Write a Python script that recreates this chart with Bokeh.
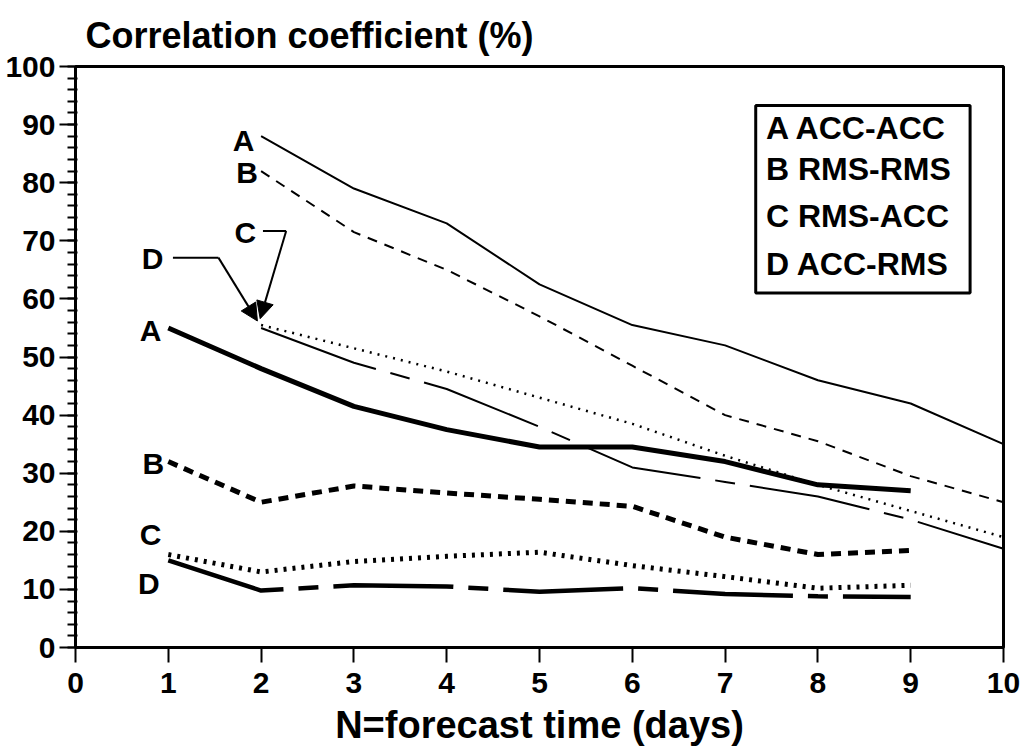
from bokeh.plotting import figure
from bokeh.models import Range1d, FixedTicker, Arrow, NormalHead
from bokeh.core.properties import value
from bokeh.embed import file_html
from bokeh.resources import INLINE

# ---- data ----
days_long = [2, 3, 4, 5, 6, 7, 8, 9, 10]
acc_acc_long = [88, 79, 73, 62.5, 55.5, 52, 46, 42, 35]
rms_rms_long = [82, 71.5, 65, 57, 48.5, 40, 35.5, 29.5, 25]
rms_acc_long = [55.5, 51.5, 47.5, 43, 38.5, 33, 28, 23.5, 19]
acc_rms_long = [55, 49, 44.5, 38, 31, 28.5, 26, 22, 17]

days_short = [1, 2, 3, 4, 5, 6, 7, 8, 9]
acc_acc_short = [55, 48, 41.5, 37.5, 34.5, 34.5, 32, 28, 27]
rms_rms_short = [32, 25, 27.8, 26.6, 25.5, 24.3, 19, 16, 16.7]
rms_acc_short = [16, 13, 14.8, 15.7, 16.4, 14.1, 12.2, 10.2, 10.7]
acc_rms_short = [15, 9.8, 10.7, 10.5, 9.6, 10.2, 9.2, 8.8, 8.7]

x_ticks = [0, 1, 2, 3, 4, 5, 6, 7, 8, 9, 10]
y_ticks = [0, 10, 20, 30, 40, 50, 60, 70, 80, 90, 100]

legend_entries = ["A ACC-ACC", "B RMS-RMS", "C RMS-ACC", "D ACC-RMS"]
curve_letters = ["A", "B", "C", "D", "A", "B", "C", "D"]

title_text = "Correlation coefficient (%)"
x_label = "N=forecast time (days)"

FONT = "Liberation Sans"

p = figure(width=1024, height=754, output_backend="svg", toolbar_location=None,
           x_range=Range1d(0, 10), y_range=Range1d(0, 100),
           min_border_left=75, min_border_right=21, min_border_top=66,
           min_border_bottom=107)
p.background_fill_color = "white"
p.border_fill_color = "white"
p.grid.visible = False
p.outline_line_color = "black"
p.outline_line_width = 3

p.title.text = title_text
p.title.text_font = FONT
p.title.text_font_style = "bold"
p.title.text_font_size = "36px"
p.title.text_color = "black"
p.title.align = "left"
p.title.offset = 10
p.title.standoff = 22

# axes
xa = p.xaxis[0]
xa.ticker = FixedTicker(ticks=x_ticks)
xa.axis_line_width = 3
xa.axis_line_color = "black"
xa.major_tick_line_width = 2
xa.major_tick_line_color = "black"
xa.major_tick_out = 15
xa.major_tick_in = 0
xa.minor_tick_line_color = None
xa.major_label_text_font = FONT
xa.major_label_text_font_style = "bold"
xa.major_label_text_font_size = "30px"
xa.major_label_text_color = "black"
xa.major_label_standoff = 10
xa.axis_label = x_label
xa.axis_label_text_font = FONT
xa.axis_label_text_font_style = "bold"
xa.axis_label_text_font_size = "38px"
xa.axis_label_text_color = "black"
xa.axis_label_standoff = 8

ya = p.yaxis[0]
ya.ticker = FixedTicker(ticks=y_ticks, minor_ticks=list(range(0, 101, 2)))
ya.axis_line_width = 3
ya.axis_line_color = "black"
ya.major_tick_line_width = 2
ya.major_tick_line_color = "black"
ya.major_tick_out = 16
ya.major_tick_in = 0
ya.minor_tick_line_width = 2
ya.minor_tick_line_color = "black"
ya.minor_tick_out = 8
ya.minor_tick_in = 2
ya.major_label_text_font = FONT
ya.major_label_text_font_style = "bold"
ya.major_label_text_font_size = "30px"
ya.major_label_text_color = "black"
ya.major_label_standoff = 4

# long-range (thin) curves
p.line(days_long, acc_acc_long, line_color="black", line_width=2)
p.line(days_long, rms_rms_long, line_color="black", line_width=2, line_dash="10 8")
p.line(days_long, rms_acc_long, line_color="black", line_width=2.5, line_dash="2 6")
p.line(days_long, acc_rms_long, line_color="black", line_width=2, line_dash="122 15 20 15")

# short-range (thick) curves
p.line(days_short, acc_acc_short, line_color="black", line_width=5)
p.line(days_short, rms_rms_short, line_color="black", line_width=5, line_dash="10 7")
p.line(days_short, rms_acc_short, line_color="black", line_width=5, line_dash="3 6")
p.line(days_short, acc_rms_short, line_color="black", line_width=4.5, line_dash="120 15 20 15")

# curve letters
letter_x = [1.81, 1.85, 1.83, 0.83, 0.81, 0.84, 0.81, 0.79]
letter_y = [87.2, 81.7, 71.4, 66.9, 54.5, 31.7, 19.5, 11.0]
p.text(x=letter_x, y=letter_y, text=curve_letters, text_font=value(FONT),
       text_font_style="bold", text_font_size="30px", text_align="center",
       text_baseline="middle", text_color="black")

# leader lines for C and D
p.line([2.02, 2.27], [71.7, 71.7], line_color="black", line_width=2)
p.line([1.05, 1.54], [67.1, 67.1], line_color="black", line_width=2)
p.add_layout(Arrow(end=NormalHead(size=17, fill_color="black", line_color="black"),
                   x_start=2.27, y_start=71.7, x_end=1.99, y_end=56.6,
                   line_color="black", line_width=2))
p.add_layout(Arrow(end=NormalHead(size=17, fill_color="black", line_color="black"),
                   x_start=1.54, y_start=67.1, x_end=1.96, y_end=56.2,
                   line_color="black", line_width=2))

# legend box
p.quad(left=[7.33], right=[9.64], bottom=[61.0], top=[93.3], fill_color="white",
       line_color="black", line_width=3)
leg_y = [89.5, 82.4, 74.3, 66.0]
p.text(x=[7.44] * 4, y=leg_y, text=legend_entries, text_font=value(FONT),
       text_font_style="bold", text_font_size="32px", text_align="left",
       text_baseline="middle", text_color="black")

open("out.html", "w").write(file_html(p, INLINE))
